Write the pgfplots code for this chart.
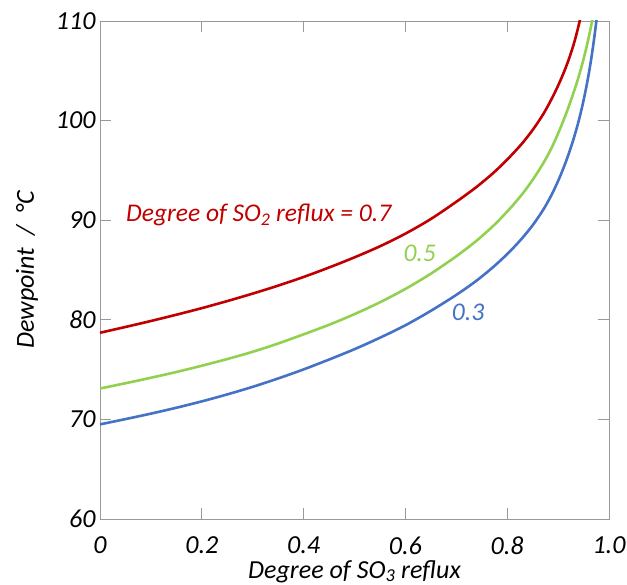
\documentclass[border=0pt]{standalone}
\usepackage{fontspec}
\setmainfont{Carlito}
\usepackage{pgfplots}
\pgfplotsset{compat=1.18}
\definecolor{cred}{RGB}{192,0,0}
\definecolor{cgreen}{RGB}{146,208,80}
\definecolor{cblue}{RGB}{68,114,196}
\begin{document}
\begin{tikzpicture}
\begin{axis}[
  scale only axis,
  width=509bp, height=498bp,
  xmin=0, xmax=1, ymin=60, ymax=110,
  xtick={0,0.2,0.4,0.6,0.8,1.0},
  xticklabels={0,0.2,0.4,0.6,0.8,1.0},
  ytick={60,70,80,90,100,110},
  yticklabels={60,70,80,90,100,110},
  tick align=inside,
  major tick length=11bp,
  minor tick num=0,
  axis line style={gray!80, line width=0.9bp},
  every tick/.style={gray!80, line width=0.9bp},
  tick label style={font=\itshape\fontsize{26bp}{30bp}\selectfont, text=black},
  xticklabel style={yshift=-14bp},
  yticklabel style={xshift=-1bp},
  label style={font=\itshape\fontsize{26bp}{30bp}\selectfont},
  xlabel={Degree of SO\textsubscript{3} reflux},
  ylabel={Dewpoint\ \ /\ \ °C},
  xlabel style={at={(axis description cs:0.5,-0.1185)}, anchor=base},
  ylabel style={at={(axis description cs:-0.1434,0.5)}, anchor=center},
  clip=true,
]
\addplot[cred, line width=2.6bp, smooth] coordinates {
(0,78.7) (0.05,79.28) (0.1,79.88) (0.15,80.51) (0.2,81.17) (0.25,81.88)
(0.3,82.63) (0.35,83.43) (0.4,84.30) (0.45,85.25) (0.5,86.27) (0.55,87.38)
(0.6,88.65) (0.65,90.12) (0.7,91.85) (0.74,93.35) (0.775,94.85) (0.805,96.35)
(0.83,97.75) (0.852,99.2) (0.872,100.75) (0.89,102.45) (0.906,104.2) (0.92,106.0)
(0.932,107.9) (0.942,109.9) (0.95,111.8)
};
\addplot[cgreen, line width=2.6bp, smooth] coordinates {
(0,73.1) (0.05,73.63) (0.1,74.18) (0.15,74.76) (0.2,75.39) (0.25,76.06)
(0.3,76.79) (0.35,77.62) (0.4,78.54) (0.45,79.50) (0.5,80.57) (0.55,81.76)
(0.6,83.10) (0.65,84.63) (0.7,86.38) (0.74,87.95) (0.775,89.55) (0.805,91.15)
(0.83,92.65) (0.852,94.2) (0.872,95.82) (0.888,97.35) (0.902,98.95) (0.915,100.6)
(0.927,102.3) (0.938,104.0) (0.947,105.6) (0.955,107.2) (0.962,108.8) (0.968,110.3) (0.972,111.4)
};
\addplot[cblue, line width=2.6bp, smooth] coordinates {
(0,69.5) (0.05,70.03) (0.1,70.58) (0.15,71.17) (0.2,71.81) (0.25,72.51)
(0.3,73.27) (0.35,74.11) (0.4,75.02) (0.45,76.01) (0.5,77.05) (0.55,78.2)
(0.6,79.45) (0.65,80.9) (0.7,82.5) (0.74,83.94) (0.775,85.41) (0.805,86.85)
(0.83,88.23) (0.852,89.63) (0.872,91.15) (0.888,92.63) (0.902,94.17) (0.915,95.83)
(0.927,97.6) (0.938,99.5) (0.947,101.34) (0.955,103.26) (0.962,105.22) (0.968,107.2)
(0.973,109.1) (0.977,110.82)
};
\node[anchor=base west, inner sep=0, text=cred, font=\itshape\fontsize{25.5bp}{30bp}\selectfont]
  at (axis cs:0.051,89.85) {Degree of SO\textsubscript{2} reflux = 0.7};
\node[anchor=base west, inner sep=0, text=cgreen, font=\itshape\fontsize{25.5bp}{30bp}\selectfont]
  at (axis cs:0.596,85.83) {0.5};
\node[anchor=base west, inner sep=0, text=cblue, font=\itshape\fontsize{25.5bp}{30bp}\selectfont]
  at (axis cs:0.691,79.98) {0.3};
\coordinate (bl) at (rel axis cs:0,0);
\coordinate (tr) at (rel axis cs:1,1);
\end{axis}
\pgfresetboundingbox
\path[use as bounding box] ([shift={(-100bp,-66bp)}]bl) rectangle ([shift={(18bp,21bp)}]tr);
\end{tikzpicture}
\end{document}
